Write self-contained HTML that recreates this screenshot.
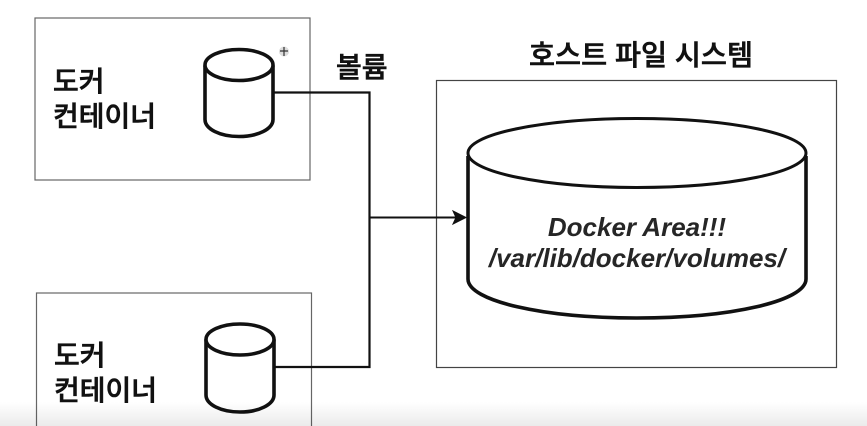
<!DOCTYPE html>
<html lang="ko">
<head>
<meta charset="utf-8">
<style>
html,body{margin:0;padding:0;background:#fff;}
body{width:867px;height:426px;overflow:hidden;}
svg{display:block;}
.k{font-family:"Liberation Sans","Noto Sans CJK KR",sans-serif;font-weight:500;fill:#111;stroke:#111;stroke-width:0.6px;}
.e{font-family:"Liberation Sans",sans-serif;font-weight:bold;font-style:italic;font-size:26px;fill:#262626;text-anchor:middle;}
</style>
</head>
<body>
<svg width="867" height="426" viewBox="0 0 867 426" xmlns="http://www.w3.org/2000/svg">
<defs>
<linearGradient id="g" x1="0" y1="0" x2="0" y2="1">
<stop offset="0" stop-color="#000" stop-opacity="0"/>
<stop offset="1" stop-color="#000" stop-opacity="0.08"/>
</linearGradient>
</defs>
<rect width="867" height="426" fill="#fff"/>

<!-- boxes -->
<rect x="35" y="18" width="275" height="162" fill="#fff" stroke="#666" stroke-width="1.2"/>
<rect x="36.5" y="293" width="275" height="150" fill="#fff" stroke="#666" stroke-width="1.2"/>
<rect x="436.5" y="80.5" width="400" height="287" fill="#fff" stroke="#444" stroke-width="1.2"/>

<!-- connectors -->
<path d="M274 92.5H369.5V367H275" fill="none" stroke="#111" stroke-width="2.2"/>
<path d="M369.5 217.5H458" fill="none" stroke="#111" stroke-width="2"/>
<path d="M453 211L466 217.5L453 224L456 217.5Z" fill="#111" stroke="#111" stroke-width="1"/>

<!-- cylinder 1 -->
<path d="M205 65.5V119.5C205 129 220 136.5 239 136.5C258 136.5 273 129 273 119.5V65.5" fill="#fff" stroke="#111" stroke-width="3.6"/>
<ellipse cx="239" cy="65" rx="34" ry="15.5" fill="#fff" stroke="#111" stroke-width="3.6"/>

<!-- cylinder 2 -->
<path d="M206 339.5V395C206 404.5 221 412 240 412C259 412 274 404.5 274 395V339.5" fill="#fff" stroke="#111" stroke-width="3.6"/>
<ellipse cx="240" cy="339.5" rx="34" ry="15.5" fill="#fff" stroke="#111" stroke-width="3.6"/>

<!-- big cylinder -->
<path d="M468 156V279C468 301 543 318 637 318C731 318 806 301 806 279V156" fill="#fff" stroke="#111" stroke-width="3.6"/>
<ellipse cx="637" cy="153" rx="169" ry="34.5" fill="#fff" stroke="#111" stroke-width="3"/>

<!-- labels -->
<text class="k" x="53" y="91" font-size="28">도커</text>
<text class="k" x="53" y="126" font-size="28">컨테이너</text>
<text class="k" x="54" y="365" font-size="28">도커</text>
<text class="k" x="54" y="400" font-size="28">컨테이너</text>
<text class="k" x="336" y="77" font-size="28">볼륨</text>
<text class="k" x="641" y="65" font-size="28.3" text-anchor="middle">호스트 파일 시스템</text>
<text class="e" x="637" y="236">Docker Area!!!</text>
<text class="e" x="637" y="267">/var/lib/docker/volumes/</text>

<!-- cursor -->
<circle cx="284" cy="51.5" r="5" fill="#ddd"/>
<path d="M284 47V56M280 51H288" stroke="#333" stroke-width="1.2" fill="none"/>

<!-- bottom fade -->
<rect x="0" y="402" width="867" height="24" fill="url(#g)"/>
</svg>
</body>
</html>
